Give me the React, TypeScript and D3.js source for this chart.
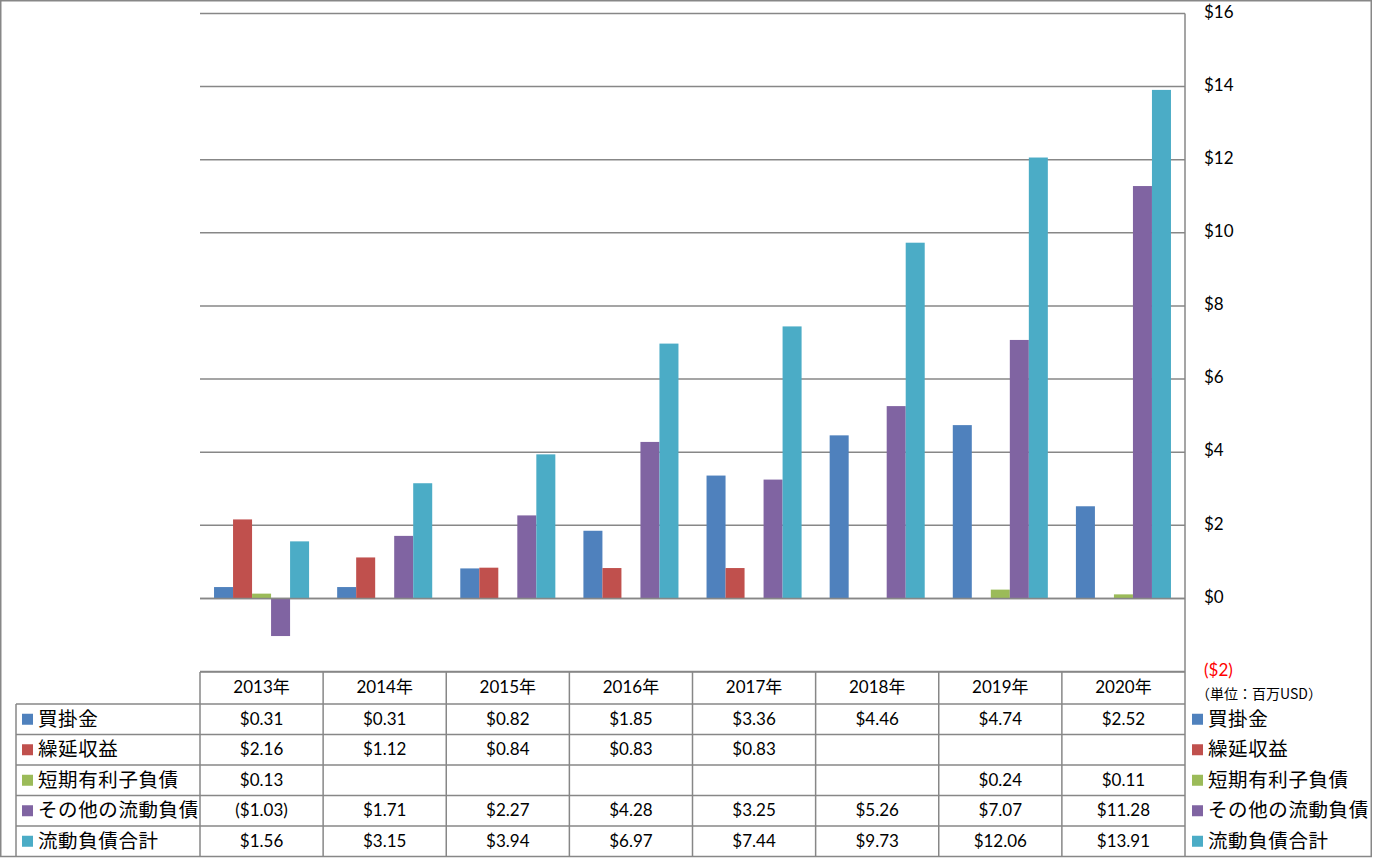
import React from "react";
import * as d3 from "d3";

const years = ["2013年", "2014年", "2015年", "2016年", "2017年", "2018年", "2019年", "2020年"];
const seriesNames = ["買掛金", "繰延収益", "短期有利子負債", "その他の流動負債", "流動負債合計"];
const seriesColors = ["#4F81BD", "#C0504D", "#9BBB59", "#8064A2", "#4BACC6"];
const accountsPayable: (number | null)[] = [0.31, 0.31, 0.82, 1.85, 3.36, 4.46, 4.74, 2.52];
const deferredRevenue: (number | null)[] = [2.16, 1.12, 0.84, 0.83, 0.83, null, null, null];
const shortTermDebt: (number | null)[] = [0.13, null, null, null, null, null, 0.24, 0.11];
const otherCurrent: (number | null)[] = [-1.03, 1.71, 2.27, 4.28, 3.25, 5.26, 7.07, 11.28];
const totalCurrent: (number | null)[] = [1.56, 3.15, 3.94, 6.97, 7.44, 9.73, 12.06, 13.91];
const seriesValues = [accountsPayable, deferredRevenue, shortTermDebt, otherCurrent, totalCurrent];
const yTicks = [-2, 0, 2, 4, 6, 8, 10, 12, 14, 16];
const unitLabel = "（単位：百万USD）";

const W = 1373;
const H = 858;
const plotLeft = 200;
const plotRight = 1185;
const tableTop = 672;
const headerBottom = 704;
const rowH = 30.5;
const bottomY = 856.5;
const grid = "#878787";
const numFont = "Lato, 'Noto Sans CJK JP', sans-serif";
const jpFont = "'Noto Sans CJK JP', sans-serif";

function fmt(v: number) {
  return v < 0 ? `($${Math.abs(v).toFixed(2)})` : `$${v.toFixed(2)}`;
}
function fmtTick(v: number) {
  return v < 0 ? `($${Math.abs(v)})` : `$${v}`;
}

export default function App() {
  const x = d3.scaleBand<string>().domain(years).range([plotLeft, plotRight]).padding(0);
  const y = d3.scaleLinear().domain([-2, 16]).range([671.5, 13.5]);
  const bw = x.bandwidth();
  const inner = d3
    .scaleBand<string>()
    .domain(seriesNames)
    .range([bw * 0.114, bw * (1 - 0.114)])
    .padding(0);

  const rowCenter = (i: number) => headerBottom + rowH * i + rowH / 2;

  return (
    <svg
      width={W}
      height={H}
      style={{ position: "absolute", left: 0, top: 0, background: "#fff" }}
    >
      <rect x={0} y={0} width={W} height={H} fill="#fff" />
      {yTicks.map((t) => (
        <line
          key={"g" + t}
          x1={plotLeft}
          x2={plotRight}
          y1={y(t)}
          y2={y(t)}
          stroke={grid}
          strokeWidth={1.5}
        />
      ))}
      {seriesValues.map((vals, si) =>
        vals.map((v, ci) => {
          if (v === null) return null;
          const x0 = (x(years[ci]) as number) + (inner(seriesNames[si]) as number);
          const y0 = y(Math.max(0, v));
          const h = Math.abs(y(v) - y(0));
          return (
            <rect
              key={`b${si}-${ci}`}
              x={x0}
              y={y0}
              width={inner.bandwidth()}
              height={h}
              fill={seriesColors[si]}
            />
          );
        })
      )}
      <line x1={plotLeft} x2={plotRight} y1={y(0)} y2={y(0)} stroke={grid} strokeWidth={1.5} />
      {yTicks.map((t) => (
        <text
          key={"t" + t}
          x={1204}
          y={y(t)}
          dominantBaseline="middle"
          fontFamily={numFont}
          fontSize={17}
          fill={t < 0 ? "#FF0000" : "#000"}
        >
          {fmtTick(t)}
        </text>
      ))}
      <text x={1196} y={695} dominantBaseline="middle" fontFamily={jpFont} fontSize={14} fill="#000">
        {unitLabel}
      </text>
      <line x1={plotLeft} x2={plotRight} y1={tableTop} y2={tableTop} stroke={grid} strokeWidth={1.5} />
      {[0, 1, 2, 3, 4].map((i) => (
        <line
          key={"h" + i}
          x1={16}
          x2={plotRight}
          y1={headerBottom + rowH * i}
          y2={headerBottom + rowH * i}
          stroke={grid}
          strokeWidth={1.5}
        />
      ))}
      <line x1={16} x2={16} y1={headerBottom} y2={bottomY} stroke={grid} strokeWidth={1.5} />
      {d3.range(years.length).map((k) => (
        <line
          key={"v" + k}
          x1={plotLeft + bw * k}
          x2={plotLeft + bw * k}
          y1={tableTop}
          y2={bottomY}
          stroke={grid}
          strokeWidth={1.5}
        />
      ))}
      <line x1={plotRight} x2={plotRight} y1={13.5} y2={bottomY} stroke={grid} strokeWidth={1.5} />
      {years.map((yr) => (
        <text
          key={"y" + yr}
          x={(x(yr) as number) + bw / 2}
          y={(tableTop + headerBottom) / 2 + 1}
          textAnchor="middle"
          dominantBaseline="middle"
          fontFamily={numFont}
          fontSize={17}
          fill="#000"
        >
          {yr}
        </text>
      ))}
      {seriesNames.map((name, si) => (
        <g key={"r" + si}>
          <rect x={22} y={rowCenter(si) - 5.5} width={11} height={11} fill={seriesColors[si]} />
          <text
            x={38}
            y={rowCenter(si) + 1}
            dominantBaseline="middle"
            fontFamily={jpFont}
            fontSize={19.5}
            letterSpacing={0.6}
            fill="#000"
          >
            {name}
          </text>
          <rect x={1192} y={rowCenter(si) - 5.5} width={11} height={11} fill={seriesColors[si]} />
          <text
            x={1208}
            y={rowCenter(si) + 1}
            dominantBaseline="middle"
            fontFamily={jpFont}
            fontSize={19.5}
            letterSpacing={0.6}
            fill="#000"
          >
            {name}
          </text>
        </g>
      ))}
      {seriesValues.map((vals, si) =>
        vals.map((v, ci) =>
          v === null ? null : (
            <text
              key={`v${si}-${ci}`}
              x={(x(years[ci]) as number) + bw / 2}
              y={rowCenter(si) + 1}
              textAnchor="middle"
              dominantBaseline="middle"
              fontFamily={numFont}
              fontSize={17}
              fill="#000"
            >
              {fmt(v)}
            </text>
          )
        )
      )}
      <rect x={0.75} y={0.75} width={W - 2.5} height={bottomY - 0.75} fill="none" stroke={grid} strokeWidth={1.5} />
    </svg>
  );
}
